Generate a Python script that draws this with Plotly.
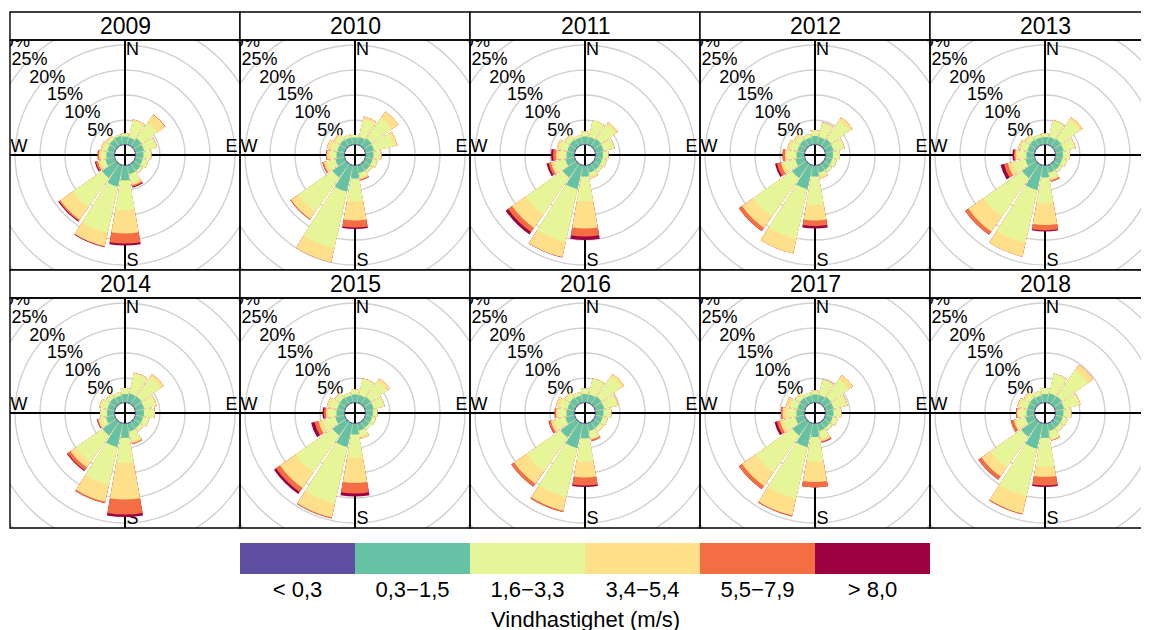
import plotly.graph_objects as go

# ---------------- data (cumulative % at the upper edge of each speed band) ----------------
years = [2009, 2010, 2011, 2012, 2013, 2014, 2015, 2016, 2017, 2018]
# 16 wind directions: N, NNE, NE, ENE, E, ESE, SE, SSE, S, SSW, SW, WSW, W, WNW, NW, NNW
directions = [0, 22.5, 45, 67.5, 90, 112.5, 135, 157.5, 180, 202.5, 225, 247.5, 270, 292.5, 315, 337.5]
bands = ["< 0,3", "0,3\u22121,5", "1,6\u22123,3", "3,4\u22125,4", "5,5\u22127,9", "> 8,0"]
band_colors = ["#5E4FA2", "#66C2A5", "#E6F598", "#FEE08B", "#F46D43", "#9E0142"]
grid_pct = [5, 10, 15, 20, 25, 30, 35]
label_pct = [5, 10, 15, 20, 25, 30]
compass = ["N", "E", "S", "W"]

calm_upper = [0.2, 0.2, 0.2, 0.2, 0.2, 0.2, 0.2, 0.2, 0.2, 0.2, 0.2, 0.2, 0.2, 0.2, 0.2, 0.2]

upper_1_5 = {
    2009: [1.7, 1.6, 2.0, 1.9, 1.7, 1.6, 1.8, 1.9, 3.1, 4.5, 3.6, 2.0, 1.7, 1.6, 1.8, 1.9],
    2010: [1.5, 1.7, 2.0, 1.9, 1.7, 1.6, 1.7, 1.7, 2.7, 5.5, 3.5, 2.0, 1.7, 1.6, 1.7, 1.6],
    2011: [1.7, 1.7, 1.9, 1.8, 1.6, 1.5, 1.6, 1.6, 2.3, 5.0, 3.5, 2.0, 1.7, 1.6, 1.7, 1.6],
    2012: [1.8, 1.7, 1.9, 1.8, 1.6, 1.5, 1.6, 1.6, 2.3, 5.0, 3.6, 2.0, 1.7, 1.6, 1.7, 1.6],
    2013: [1.6, 1.7, 1.9, 1.8, 1.6, 1.5, 1.6, 1.6, 2.5, 5.2, 3.6, 2.0, 1.7, 1.6, 1.7, 1.6],
    2014: [1.8, 2.0, 2.0, 1.9, 1.8, 1.7, 1.7, 1.8, 3.0, 5.0, 3.5, 1.9, 1.6, 1.6, 1.7, 1.6],
    2015: [1.7, 1.7, 1.9, 1.8, 1.6, 1.5, 1.5, 1.6, 2.3, 5.0, 3.5, 2.0, 1.7, 1.6, 1.7, 1.6],
    2016: [1.8, 1.8, 2.0, 1.9, 1.7, 1.6, 1.6, 1.7, 3.1, 5.2, 4.0, 2.0, 1.7, 1.6, 1.7, 1.6],
    2017: [1.7, 1.7, 1.9, 1.8, 1.7, 1.6, 1.6, 1.7, 2.8, 5.0, 3.5, 2.0, 1.7, 1.6, 1.7, 1.6],
    2018: [1.8, 2.0, 2.1, 1.9, 1.7, 1.6, 1.6, 1.7, 3.0, 5.3, 3.8, 2.0, 1.7, 1.6, 1.7, 1.6],
}
upper_3_3 = {
    2009: [2.3, 5.0, 5.8, 4.3, 3.2, 2.7, 2.3, 3.7, 9.0, 14.0, 10.7, 3.0, 2.7, 2.5, 2.4, 2.2],
    2010: [2.0, 5.4, 7.1, 6.0, 3.2, 2.6, 2.2, 2.6, 7.3, 17.1, 11.9, 3.8, 3.0, 3.0, 2.8, 2.2],
    2011: [2.7, 5.1, 5.5, 3.9, 2.6, 2.4, 2.2, 2.4, 7.3, 15.8, 12.5, 4.2, 3.0, 3.2, 2.8, 2.1],
    2012: [2.8, 4.5, 6.5, 3.9, 2.9, 2.4, 2.1, 2.4, 8.0, 15.2, 13.1, 4.3, 3.4, 3.2, 2.8, 2.3],
    2013: [2.3, 5.0, 6.5, 4.1, 2.9, 2.4, 2.1, 2.8, 7.7, 16.0, 13.0, 4.5, 3.3, 3.0, 2.7, 2.2],
    2014: [3.0, 6.0, 6.8, 4.3, 3.8, 2.9, 2.4, 3.8, 8.0, 12.7, 10.0, 3.2, 2.7, 3.0, 2.6, 2.3],
    2015: [2.7, 5.0, 5.8, 4.0, 2.4, 2.2, 2.0, 2.8, 7.0, 16.5, 12.5, 4.5, 3.3, 3.2, 2.8, 2.2],
    2016: [2.9, 5.0, 7.0, 4.6, 3.2, 2.6, 2.4, 3.2, 7.8, 15.2, 12.3, 4.3, 3.3, 3.3, 2.8, 2.3],
    2017: [2.5, 4.8, 6.3, 4.4, 3.2, 2.6, 2.2, 3.3, 7.8, 15.5, 12.5, 4.4, 3.4, 3.2, 2.7, 2.2],
    2018: [3.0, 6.0, 8.5, 5.0, 3.2, 2.6, 2.4, 3.3, 8.7, 15.0, 11.3, 4.0, 3.2, 3.2, 2.9, 2.5],
}
upper_5_4 = {
    2009: [2.3, 5.3, 7.8, 4.6, 3.3, 2.8, 2.4, 4.2, 13.7, 16.7, 13.8, 3.6, 3.2, 3.0, 2.7, 2.2],
    2010: [2.0, 5.9, 8.6, 6.7, 3.3, 2.7, 2.3, 3.0, 11.1, 20.0, 13.6, 4.4, 3.6, 3.8, 3.2, 2.2],
    2011: [2.7, 5.1, 6.0, 4.1, 2.7, 2.5, 2.3, 2.8, 12.7, 18.9, 15.8, 5.0, 3.8, 3.8, 3.0, 2.1],
    2012: [3.0, 4.7, 7.2, 4.1, 3.0, 2.5, 2.2, 2.8, 11.1, 18.2, 15.8, 5.0, 4.0, 3.7, 3.2, 2.3],
    2013: [2.3, 5.2, 7.2, 4.3, 3.0, 2.5, 2.2, 3.2, 12.0, 19.2, 16.7, 5.6, 3.9, 3.5, 3.0, 2.2],
    2014: [3.0, 6.3, 7.5, 4.5, 4.0, 3.0, 2.5, 4.2, 15.3, 16.2, 11.3, 3.5, 3.0, 3.3, 2.7, 2.3],
    2015: [2.7, 5.1, 6.5, 4.1, 2.5, 2.3, 2.0, 3.3, 12.0, 19.4, 16.3, 5.5, 3.8, 3.8, 3.0, 2.2],
    2016: [2.9, 5.1, 7.6, 4.8, 3.3, 2.7, 2.5, 3.5, 10.9, 18.0, 15.3, 5.0, 3.8, 4.0, 3.0, 2.3],
    2017: [2.5, 4.9, 7.3, 4.7, 3.3, 2.7, 2.3, 3.8, 11.8, 19.0, 15.8, 5.2, 4.5, 4.0, 2.9, 2.2],
    2018: [3.0, 6.1, 9.8, 5.3, 3.3, 2.7, 2.5, 3.6, 10.8, 18.6, 13.5, 4.4, 3.6, 3.7, 3.2, 2.5],
}
upper_7_9 = {
    2009: [2.3, 5.3, 7.9, 4.6, 3.3, 2.8, 2.4, 4.5, 15.7, 16.8, 14.1, 4.0, 3.5, 3.0, 2.7, 2.2],
    2010: [2.0, 5.9, 8.6, 6.7, 3.3, 2.7, 2.3, 3.2, 12.5, 20.0, 13.8, 4.7, 3.8, 3.8, 3.2, 2.2],
    2011: [2.7, 5.1, 6.0, 4.1, 2.7, 2.5, 2.3, 2.8, 14.3, 18.9, 16.8, 5.5, 4.4, 3.8, 3.0, 2.1],
    2012: [3.0, 4.7, 7.2, 4.1, 3.0, 2.5, 2.2, 2.8, 12.2, 18.2, 16.6, 5.8, 4.5, 3.7, 3.2, 2.3],
    2013: [2.3, 5.2, 7.2, 4.3, 3.0, 2.5, 2.2, 3.5, 13.1, 19.2, 17.5, 6.4, 4.2, 3.5, 3.0, 2.2],
    2014: [3.0, 6.3, 7.5, 4.5, 4.0, 3.0, 2.5, 4.4, 18.3, 16.5, 12.0, 3.7, 3.0, 3.3, 2.7, 2.3],
    2015: [2.7, 5.1, 6.5, 4.1, 2.5, 2.3, 2.0, 3.3, 14.1, 19.6, 17.3, 6.3, 4.2, 3.8, 3.0, 2.2],
    2016: [2.9, 5.1, 7.6, 4.8, 3.3, 2.7, 2.5, 3.8, 12.5, 18.3, 16.0, 5.4, 4.1, 4.0, 3.0, 2.3],
    2017: [2.5, 4.9, 7.3, 4.7, 3.3, 2.7, 2.3, 4.0, 12.9, 19.2, 16.6, 5.8, 4.8, 4.0, 2.9, 2.2],
    2018: [3.0, 6.1, 9.8, 5.3, 3.3, 2.7, 2.5, 3.7, 12.5, 18.8, 14.3, 5.0, 3.8, 3.7, 3.2, 2.5],
}
upper_max = {
    2009: [2.3, 5.3, 7.9, 4.6, 3.3, 2.8, 2.4, 4.7, 16.1, 16.9, 14.3, 4.2, 3.5, 3.0, 2.7, 2.2],
    2010: [2.0, 5.9, 8.6, 6.7, 3.3, 2.7, 2.3, 3.2, 12.8, 20.0, 13.8, 4.7, 3.8, 3.8, 3.2, 2.2],
    2011: [2.7, 5.1, 6.0, 4.1, 2.7, 2.5, 2.3, 2.8, 15.0, 19.0, 17.4, 5.9, 4.8, 3.8, 3.0, 2.1],
    2012: [3.0, 4.7, 7.2, 4.1, 3.0, 2.5, 2.2, 2.8, 12.7, 18.2, 16.6, 6.2, 4.5, 3.7, 3.2, 2.3],
    2013: [2.3, 5.2, 7.2, 4.3, 3.0, 2.5, 2.2, 3.5, 13.3, 19.2, 17.5, 7.1, 4.5, 3.5, 3.0, 2.2],
    2014: [3.0, 6.3, 7.5, 4.5, 4.0, 3.0, 2.5, 4.4, 18.8, 16.5, 12.2, 3.8, 3.0, 3.3, 2.7, 2.3],
    2015: [2.7, 5.1, 6.5, 4.1, 2.5, 2.3, 2.0, 3.3, 14.7, 19.6, 17.8, 7.0, 4.5, 3.8, 3.0, 2.2],
    2016: [2.9, 5.1, 7.6, 4.8, 3.3, 2.7, 2.5, 3.8, 12.8, 18.3, 16.0, 5.5, 4.1, 4.0, 3.0, 2.3],
    2017: [2.5, 4.9, 7.3, 4.7, 3.3, 2.7, 2.3, 4.1, 12.9, 19.2, 16.6, 6.3, 4.8, 4.0, 2.9, 2.2],
    2018: [3.0, 6.1, 9.8, 5.3, 3.3, 2.7, 2.5, 3.7, 12.8, 18.8, 14.3, 5.0, 3.8, 3.7, 3.2, 2.5],
}

# ---------------- layout constants (page pixels) ----------------
PAGE_W, PAGE_H = 1149, 630
PAGE_PAD = 8                      # default body margin of the html page
W, H = PAGE_W - PAGE_PAD, PAGE_H - PAGE_PAD
FONT = "Liberation Sans, Arial, sans-serif"
PX_PER_PCT = 5.0      # radial scale: pixels per percent
HOLE_PX = 10.0        # radius of the calm hole
COL_X0 = [10, 240, 470, 700, 930]
PANEL_W = 230
ROW_TOP = [12, 270]
STRIP_H = 28
PANEL_H = 230
GRID_COLOR = "#D0D0D0"


def px(xp):
    return (xp - PAGE_PAD) / W


def py(yp):
    return 1 - (yp - PAGE_PAD) / H


fig = go.Figure()
layout = dict(
    width=W, height=H, autosize=False,
    margin=dict(l=0, r=0, t=0, b=0),
    paper_bgcolor="white", plot_bgcolor="rgba(0,0,0,0)",
    template="none", showlegend=False,
    font=dict(family=FONT, color="black"),
)
shapes = []
annotations = []

compass_pos = {"N": (7.5, 105), "E": (106.5, 7.5), "S": (7.5, -106.5), "W": (-106, 7.5)}

for i, yr in enumerate(years):
    row, col = divmod(i, 5)
    pid = i + 1
    sfx = "" if pid == 1 else str(pid)
    x0 = COL_X0[col]
    x1 = x0 + PANEL_W
    xv1 = min(x1, PAGE_W)
    ys = ROW_TOP[row]
    yp0 = ys + STRIP_H
    yp1 = yp0 + PANEL_H
    cx = x0 + PANEL_W / 2
    cy = yp0 + PANEL_H / 2
    R = min(PANEL_W / 2, PAGE_W - cx)

    # ---- polar subplot holding the petals ----
    polar_name = "polar" + sfx
    layout[polar_name] = dict(
        domain=dict(x=[px(cx - R), px(cx + R)], y=[py(cy + R), py(cy - R)]),
        hole=HOLE_PX / R,
        bgcolor="rgba(0,0,0,0)",
        barmode="overlay",
        radialaxis=dict(range=[0, (R - HOLE_PX) / PX_PER_PCT], visible=False),
        angularaxis=dict(direction="clockwise", rotation=90, visible=False),
    )
    series = [upper_max[yr], upper_7_9[yr], upper_5_4[yr], upper_3_3[yr], upper_1_5[yr], calm_upper]
    cols = band_colors[::-1]
    for vals, colr in zip(series, cols):
        fig.add_trace(go.Barpolar(
            r=vals, theta=directions, width=20, subplot=polar_name,
            marker=dict(color=colr, line=dict(width=0)),
            hoverinfo="skip", showlegend=False,
        ))

    # ---- cartesian overlay (px units, centred on the rose) for grid, axes and labels ----
    xa, ya = "xaxis" + sfx, "yaxis" + sfx
    xr, yr_ = "x" + sfx, "y" + sfx
    layout[xa] = dict(domain=[px(x0), px(xv1)], range=[x0 - cx, xv1 - cx], anchor=yr_,
                      visible=False, fixedrange=True)
    layout[ya] = dict(domain=[py(yp1), py(yp0)], range=[cy - yp1, cy - yp0], anchor=xr,
                      visible=False, fixedrange=True)
    for g in grid_pct:
        rr = HOLE_PX + PX_PER_PCT * g
        shapes.append(dict(type="circle", xref=xr, yref=yr_, x0=-rr, x1=rr, y0=-rr, y1=rr,
                           line=dict(color=GRID_COLOR, width=1.4), layer="below"))
    shapes.append(dict(type="line", xref=xr, yref=yr_, x0=-200, x1=200, y0=0, y1=0,
                       line=dict(color="black", width=2), layer="below"))
    shapes.append(dict(type="line", xref=xr, yref=yr_, x0=0, x1=0, y0=-200, y1=200,
                       line=dict(color="black", width=2), layer="below"))

    lab_x, lab_y, lab_t = [], [], []
    for p in label_pct:
        rr = HOLE_PX + PX_PER_PCT * p
        lab_x.append(-rr * 0.7071)
        lab_y.append(rr * 0.7071 - 1)
        lab_t.append(f"{p}%")
    for c in compass:
        lab_x.append(compass_pos[c][0])
        lab_y.append(compass_pos[c][1])
        lab_t.append(c)
    fig.add_trace(go.Scatter(
        x=lab_x, y=lab_y, text=lab_t, mode="text", textposition="middle center",
        textfont=dict(size=18, color="black", family=FONT), xaxis=xr, yaxis=yr_,
        cliponaxis=True, hoverinfo="skip", showlegend=False,
    ))

    # ---- strip + panel frame ----
    shapes.append(dict(type="rect", xref="paper", yref="paper",
                       x0=px(x0), x1=px(x1), y0=py(yp0), y1=py(ys),
                       fillcolor="white", line=dict(color="black", width=1.4), layer="above"))
    shapes.append(dict(type="rect", xref="paper", yref="paper",
                       x0=px(x0), x1=px(x1), y0=py(yp1), y1=py(yp0),
                       line=dict(color="black", width=1.4), layer="above"))
    annotations.append(dict(text=str(yr), x=px(cx), y=py(ys + STRIP_H / 2 + 0.5),
                            xref="paper", yref="paper", showarrow=False,
                            xanchor="center", yanchor="middle",
                            font=dict(size=23, color="black", family=FONT)))

# ---------------- colour key ----------------
fig.add_trace(go.Heatmap(
    z=[[0, 1, 2, 3, 4, 5]], x=bands, y=[""],
    colorscale=[[k / 5, band_colors[k]] for k in range(6)], zmin=0, zmax=5,
    showscale=False, xaxis="x11", yaxis="y11", hoverinfo="skip",
))
layout["xaxis11"] = dict(domain=[px(240), px(930)], anchor="y11", type="category",
                         showgrid=False, zeroline=False, showline=False, ticks="",
                         tickfont=dict(size=22, color="black", family=FONT), fixedrange=True)
layout["yaxis11"] = dict(domain=[py(574), py(543)], anchor="x11", visible=False,
                         fixedrange=True)
annotations.append(dict(text="Vindhastighet (m/s)", x=px(585), y=py(619),
                        xref="paper", yref="paper", showarrow=False,
                        xanchor="center", yanchor="middle",
                        font=dict(size=22, color="black", family=FONT)))

layout["shapes"] = shapes
layout["annotations"] = annotations
fig.update_layout(**layout)
fig.write_html("out.html")
